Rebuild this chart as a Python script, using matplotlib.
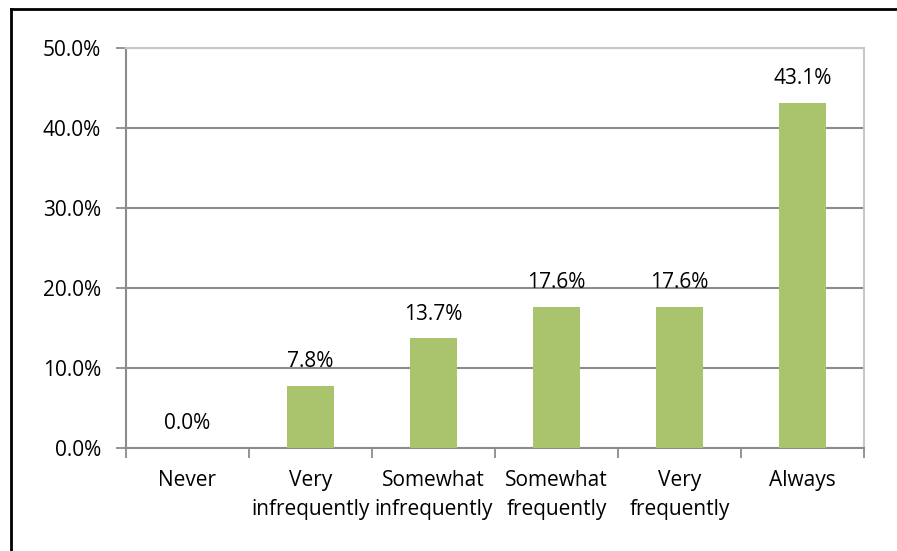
import matplotlib
matplotlib.use("Agg")
import matplotlib.pyplot as plt
from matplotlib.lines import Line2D
from matplotlib.ticker import FixedLocator

categories = ["Never", "Very\ninfrequently", "Somewhat\ninfrequently",
              "Somewhat\nfrequently", "Very\nfrequently", "Always"]
values = [0.0, 7.8, 13.7, 17.6, 17.6, 43.1]
y_ticks = [0, 10, 20, 30, 40, 50]

plt.rcParams['font.family'] = ['Open Sans', 'DejaVu Sans']
FS = 15

fig = plt.figure(figsize=(8.97, 5.51), dpi=100)
ax = fig.add_axes([126 / 897, 1 - 448 / 551, (864 - 126) / 897, (448 - 48) / 551])

x = list(range(len(categories)))
ax.bar(x, values, width=0.39, color='#A9C46C', zorder=3)
for xi, v in zip(x, values):
    ax.annotate(f"{v:.1f}%", (xi, v), xytext=(0, 10), textcoords='offset points',
                ha='center', va='bottom', fontsize=FS, color='#000000')

ax.set_xlim(-0.5, len(categories) - 0.5)
ax.set_ylim(0, 50)
ax.set_yticks(y_ticks)
ax.set_yticklabels([f"{t:.1f}%" for t in y_ticks], fontsize=FS)
ax.yaxis.grid(True, color='#8C8C8C', linewidth=1.5, zorder=0)
ax.tick_params(axis='y', length=7, width=1.3, color='#8C8C8C', pad=11)

ax.set_xticks(x)
ax.set_xticklabels(categories, fontsize=FS, linespacing=1.5)
ax.tick_params(axis='x', which='major', length=0, pad=16)
ax.xaxis.set_minor_locator(FixedLocator([i - 0.5 for i in range(len(categories) + 1)]))
ax.tick_params(axis='x', which='minor', length=7, width=1.3, color='#8C8C8C')

ax.spines['left'].set_color('#8C8C8C')
ax.spines['left'].set_linewidth(1.5)
ax.spines['bottom'].set_color('#8C8C8C')
ax.spines['bottom'].set_linewidth(1.5)
ax.spines['top'].set_color('#C8C8C8')
ax.spines['top'].set_linewidth(1.5)
ax.spines['right'].set_color('#C8C8C8')
ax.spines['right'].set_linewidth(1.5)

# outer frame (top and left edges visible in the original)
fig.add_artist(Line2D([11 / 897, 1], [1 - 9 / 551, 1 - 9 / 551], color='black',
                      linewidth=2, transform=fig.transFigure))
fig.add_artist(Line2D([11 / 897, 11 / 897], [0, 1 - 9 / 551], color='black',
                      linewidth=2, transform=fig.transFigure))

fig.savefig("out.png", dpi=100)
